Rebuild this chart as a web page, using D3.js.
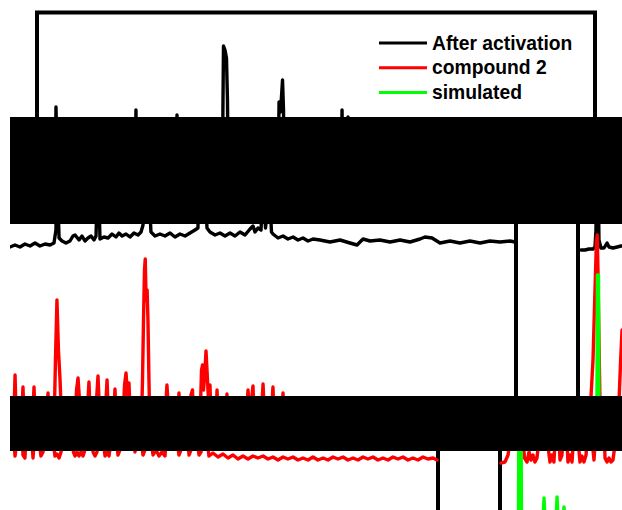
<!DOCTYPE html>
<html><head><meta charset="utf-8">
<script src="https://cdn.jsdelivr.net/npm/d3@7"></script>
<style>html,body{margin:0;padding:0;background:#fff;}svg{display:block;}</style>
</head><body>
<svg id="c" width="622" height="510"></svg>
<script>
// ---- data (2θ in degrees, intensity in a.u.) ----
const seriesNames = ["After activation", "compound 2", "simulated"];
const afterActivation = [
[5.24,40],[5.56,40],[5.89,42],[6.21,42],[6.37,46],[6.45,80],[6.53,326],[6.61,240],[6.69,60],[6.85,44],
[7.10,44],[7.34,54],[7.50,46],[7.82,44],[8.15,46],[8.47,48],[8.79,48],[9.19,46],[9.60,50],[10.00,46],
[10.40,52],[10.81,48],[11.21,54],[11.61,48],[12.02,52],[12.42,50],[12.74,54],[12.90,80],[12.98,320],[13.06,140],
[13.15,64],[13.39,58],[13.71,54],[14.03,58],[14.27,68],[14.44,70],[14.76,60],[15.00,68],[15.24,58],[15.48,64],
[15.73,68],[15.97,60],[16.13,68],[16.21,140],[16.29,310],[16.37,140],[16.45,62],[16.77,66],[17.10,64],[17.42,72],
[17.74,66],[17.98,74],[18.23,68],[18.55,72],[18.87,66],[19.19,74],[19.52,70],[19.76,76],[19.92,90],[20.00,340],
[20.04,448],[20.16,440],[20.28,424],[20.36,340],[20.44,140],[20.56,76],[20.89,68],[21.29,72],[21.69,68],[22.10,74],
[22.50,66],[22.90,72],[23.31,68],[23.71,74],[24.11,80],[24.35,84],[24.44,180],[24.52,336],[24.64,316],[24.80,380],
[24.88,320],[24.96,140],[25.08,84],[25.32,76],[25.73,70],[26.13,74],[26.53,68],[26.94,74],[27.34,68],[27.74,76],
[28.15,70],[28.55,82],[28.79,88],[28.95,76],[29.19,84],[29.44,80],[29.52,140],[29.60,320],[29.68,140],[29.80,84],
[30.00,140],[30.08,306],[30.16,140],[30.28,76],[30.40,72],[30.81,64],[31.21,68],[31.61,62],[32.02,66],[32.42,60],
[32.82,64],[33.23,58],[33.63,62],[34.19,60],[35.00,56],[35.81,60],[36.61,54],[37.18,50],[37.66,62],[38.23,58],
[39.03,60],[39.84,56],[40.65,60],[41.45,56],[42.26,62],[42.66,66],[43.23,64],[43.87,54],[44.68,58],[45.48,54],
[46.29,58],[47.10,54],[47.90,58],[48.71,56],[49.52,58],[49.92,56]
];
const compound2 = [
[5.08,14],[5.40,16],[5.65,30],[5.81,60],[5.97,100],[6.05,148],[6.21,220],[6.37,360],[6.49,460],[6.55,470],
[6.61,400],[6.69,260],[6.77,140],[6.85,60],[6.98,24],[7.18,16],[7.34,36],[7.50,20],[7.66,30],[7.82,16],
[7.98,24],[8.15,60],[8.31,140],[8.44,220],[8.55,280],[8.67,250],[8.79,140],[8.91,40],[9.03,16],[9.19,30],
[9.35,16],[9.48,80],[9.60,190],[9.72,80],[9.84,20],[10.00,30],[10.12,100],[10.24,166],[10.36,80],[10.48,16],
[10.65,30],[10.81,16],[10.97,80],[11.13,166],[11.29,60],[11.45,16],[11.61,28],[11.77,16],[11.94,30],[12.10,100],
[12.26,154],[12.42,60],[12.58,20],[12.74,80],[12.86,220],[12.98,340],[13.10,240],[13.23,180],[13.35,100],[13.47,24],
[13.63,16],[13.79,24],[13.95,16],[14.11,20],[14.27,50],[14.44,100],[14.56,160],[14.68,184],[14.80,140],[14.92,60],
[15.08,20],[15.24,30],[15.40,100],[15.56,176],[15.73,80],[15.89,28],[16.05,60],[16.17,140],[16.29,188],[16.41,120],
[16.53,30],[16.69,24],[16.85,100],[17.02,180],[17.18,80],[17.34,24],[17.50,80],[17.66,162],[17.82,60],[17.98,28],
[18.15,36],[18.31,100],[18.43,170],[18.55,194],[18.67,150],[18.79,174],[18.95,60],[19.11,28],[19.27,32],[19.44,24],
[19.60,36],[19.76,60],[19.88,180],[19.96,300],[20.04,400],[20.10,422],[20.17,340],[20.25,360],[20.32,300],[20.40,180],
[20.48,80],[20.60,36],[20.73,28],[20.89,36],[21.05,28],[21.21,36],[21.37,28],[21.53,40],[21.69,100],[21.85,170],
[22.02,100],[22.18,36],[22.34,28],[22.50,36],[22.66,80],[22.82,154],[22.98,60],[23.15,28],[23.31,36],[23.47,28],
[23.63,60],[23.79,150],[23.91,160],[24.03,80],[24.19,30],[24.35,40],[24.52,100],[24.64,200],[24.72,210],[24.80,160],
[24.92,200],[25.00,238],[25.08,200],[25.20,140],[25.32,170],[25.44,80],[25.56,36],[25.73,60],[25.89,160],[26.05,60],
[26.21,30],[26.37,40],[26.53,60],[26.69,152],[26.85,60],[27.02,30],[27.26,40],[27.50,28],[27.74,36],[27.98,28],
[28.23,100],[28.39,160],[28.55,100],[28.67,140],[28.79,168],[28.95,60],[29.11,30],[29.27,40],[29.44,100],[29.60,172],
[29.76,80],[29.92,30],[30.08,40],[30.24,100],[30.40,166],[30.56,60],[30.73,30],[30.89,36],[31.05,80],[31.21,154],
[31.37,60],[31.53,28],[31.85,34],[32.26,26],[32.66,32],[33.06,24],[33.47,30],[33.87,22],[34.27,28],[34.68,22],
[35.08,28],[35.48,24],[35.89,28],[36.29,22],[36.69,26],[37.10,20],[37.50,26],[37.90,22],[38.31,26],[38.71,20],
[39.11,24],[39.52,20],[39.92,26],[40.32,20],[40.73,24],[41.13,20],[41.53,26],[41.94,22],[42.34,26],[42.74,20],
[43.15,24],[43.55,20],[43.95,26],[44.35,22],[44.76,26],[45.16,20],[45.56,24],[45.97,20],[46.37,26],[46.77,22],
[47.18,26],[47.58,20],[47.98,24],[48.39,20],[48.79,26],[49.19,22],[49.60,24],[49.92,20]
];
const simulated = [
[5.08,0],[6.49,0],[6.57,490],[6.65,490],[6.73,0],[8.47,0],[8.55,44],[8.63,0],[9.52,0],[9.60,46],
[9.68,0],[10.08,0],[10.16,26],[10.24,0],[49.92,0]
];
const twoThetaDomain = [5, 50];
const intensityDomain = [0, 1000];

// ---- layout / style (not data) ----
const W = 622, H = 510;
const colors = ["#000000", "#ff0000", "#00ff00"];
const offsets = [500, 100, 0];
const seriesData = [afterActivation, compound2, simulated];

const x = d3.scaleLinear().domain(twoThetaDomain).range([37, 595]);
const y = d3.scaleLinear().domain(intensityDomain).range([520, 20]);

const svg = d3.select("#c");
svg.append("rect").attr("width", W).attr("height", H).attr("fill", "#fff");

function drawChart(g, withLegend) {
  const [xl, xr] = x.range();
  g.append("rect").attr("x", xl).attr("y", 12.5).attr("width", xr - xl).attr("height", 560)
    .attr("fill", "none").attr("stroke", "#000").attr("stroke-width", 4);
  seriesData.forEach((d, i) => {
    const line = d3.line().x(p => x(p[0])).y(p => y(p[1] + offsets[i]));
    g.append("path").attr("d", line(d)).attr("fill", "none")
      .attr("stroke", colors[i]).attr("stroke-width", 3.4)
      .attr("stroke-linejoin", "round").attr("stroke-linecap", "round");
  });
  if (!withLegend) return;
  const lg = g.append("g").attr("transform", "translate(379,43)");
  seriesNames.forEach((n, i) => {
    lg.append("line").attr("x1", 0).attr("x2", 48).attr("y1", i * 24.8).attr("y2", i * 24.8)
      .attr("stroke", colors[i]).attr("stroke-width", 3);
    lg.append("text").attr("x", 53).attr("y", i * 24.8 + 6.6).text(n)
      .attr("font-family", "'Liberation Sans', Arial, sans-serif").attr("font-weight", "bold")
      .attr("font-size", 19.3).attr("fill", "#000");
  });
}

// the picture is made of horizontally offset strips of the same plot
const tiles = [
  {y0: 0, y1: 117, x0: 0, shifts: [0]},
  {y0: 224, y1: 396, x0: 10, shifts: [-79, 541]},
  {y0: 451, y1: 510, x0: 10, shifts: [-157, 463]}
];
const defs = svg.append("defs");
tiles.forEach((t, k) => {
  defs.append("clipPath").attr("id", "clip" + k).append("rect")
    .attr("x", t.x0).attr("y", t.y0).attr("width", W - t.x0).attr("height", t.y1 - t.y0);
  const cg = svg.append("g").attr("clip-path", `url(#clip${k})`);
  t.shifts.forEach(s => drawChart(cg.append("g").attr("transform", `translate(${s},0)`), k === 0));
});
[[117, 224], [396, 451]].forEach(([a, b]) => {
  svg.append("rect").attr("x", 10).attr("y", a).attr("width", W - 10).attr("height", b - a).attr("fill", "#000");
});
</script>
</body></html>
